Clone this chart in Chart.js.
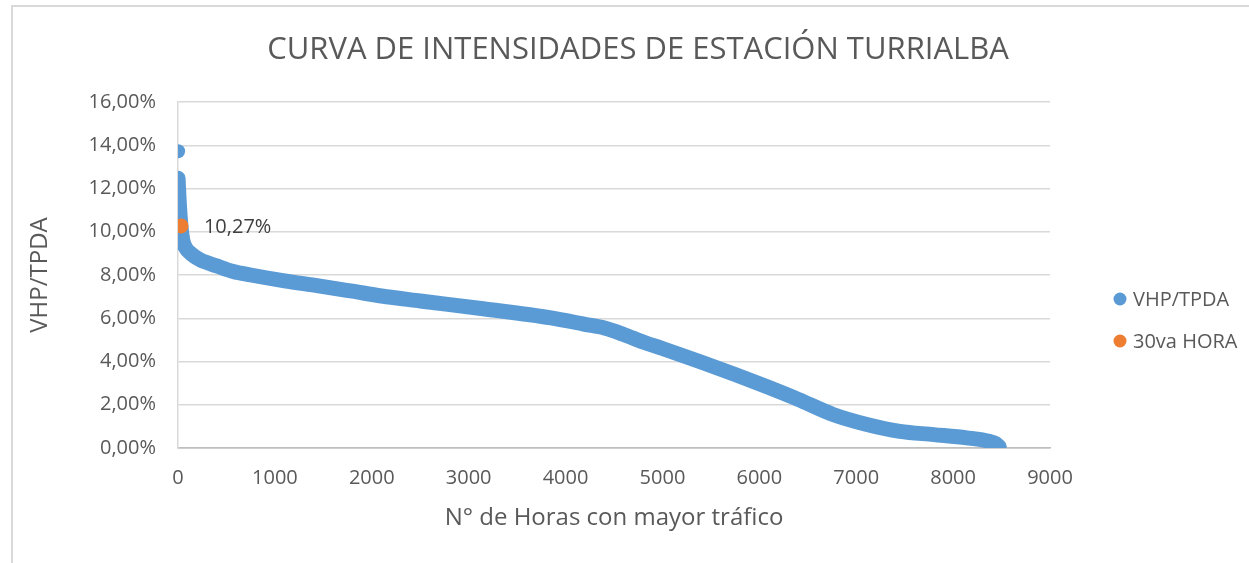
<!DOCTYPE html>
<html lang="es">
<head>
    <meta charset="UTF-8">
    <title>Curva de intensidades - Turrialba</title>
    <script src="https://cdn.jsdelivr.net/npm/chart.js"></script>
    <style>
        body {
            margin: 0;
            background: #fff;
            overflow: hidden;
        }
        #wrap {
            position: relative;
            width: 1249px;
            height: 563px;
        }
        #frame {
            position: absolute;
            left: 11px;
            top: 5px;
            width: 1300px;
            height: 600px;
            border: 2px solid #d9d9d9;
        }
        canvas {
            position: absolute;
            left: 0;
            top: 0;
        }
    </style>
</head>
<body>
<div id="wrap">
    <div id="frame"></div>
    <canvas id="curva" width="1249" height="563"></canvas>
</div>

<script>
    // horas ordenadas (eje x) y VHP/TPDA en % (eje y), leidos del grafico
    // el null separa el punto maximo aislado del resto de la curva
    const horas = [1, 1, 1, 10, 30, 50, 80, 130, 230, 400, 570, 750, 1100, 1450, 1800, 2100, 2500,
        3150, 3850, 4200, 4400, 4600, 4800, 5000, 5390, 5750, 6080, 6400, 6760, 7100, 7450, 7800,
        8140, 8380, 8440, 8476];
    const vhpTpda = [13.72, null, 12.47, 11.6, 10.27, 9.6, 9.25, 9.0, 8.7, 8.42, 8.16, 8.0, 7.73, 7.5,
        7.25, 7.03, 6.8, 6.44, 6.02, 5.72, 5.55, 5.25, 4.9, 4.6, 3.99, 3.4, 2.83, 2.25, 1.55, 1.1,
        0.77, 0.62, 0.47, 0.3, 0.2, 0.06];

    // 30va hora
    const hora30 = [30];
    const valor30 = [10.27];
    const etiqueta30 = '10,27%';

    const titulo = 'CURVA DE INTENSIDADES DE ESTACIÓN TURRIALBA';
    const series = ['VHP/TPDA', '30va HORA'];
    const colores = ['#5B9BD5', '#ED7D31'];

    const xTicks = [0, 1000, 2000, 3000, 4000, 5000, 6000, 7000, 8000, 9000];
    const yTicks = ['0,00%', '2,00%', '4,00%', '6,00%', '8,00%', '10,00%', '12,00%', '14,00%', '16,00%'];

    Chart.defaults.font.family = "'Open Sans', sans-serif";
    Chart.defaults.color = '#595959';

    // titulo centrado sobre todo el grafico
    const tituloPlugin = {
        id: 'titulo',
        afterDraw(chart) {
            const ctx = chart.ctx;
            ctx.save();
            ctx.font = "31px 'Open Sans', sans-serif";
            ctx.fillStyle = '#595959';
            ctx.textAlign = 'center';
            ctx.textBaseline = 'middle';
            ctx.fillText(titulo, 638, 50);
            ctx.restore();
        }
    };

    // etiqueta de la 30va hora
    const etiquetaPlugin = {
        id: 'etiqueta',
        afterDatasetsDraw(chart) {
            const pt = chart.getDatasetMeta(1).data[0];
            const ctx = chart.ctx;
            ctx.save();
            ctx.font = "20px 'Open Sans', sans-serif";
            ctx.fillStyle = '#404040';
            ctx.textBaseline = 'middle';
            ctx.fillText(etiqueta30, pt.x + 23, pt.y + 1);
            ctx.restore();
        }
    };

    // leyenda a la derecha
    const leyendaPlugin = {
        id: 'leyenda',
        afterDraw(chart) {
            const ctx = chart.ctx;
            ctx.save();
            ctx.font = "20px 'Open Sans', sans-serif";
            ctx.textBaseline = 'middle';
            chart.data.datasets.forEach((ds, i) => {
                const y = 299 + i * 42;
                ctx.fillStyle = ds.backgroundColor;
                ctx.beginPath();
                ctx.arc(1120, y, 6.5, 0, Math.PI * 2);
                ctx.fill();
                ctx.fillStyle = '#595959';
                ctx.fillText(ds.label, 1133, y + 1);
            });
            ctx.restore();
        }
    };

    const datos = {
        datasets: [{
            label: series[0],
            data: horas.map((h, i) => ({ x: h, y: vhpTpda[i] })),
            showLine: true,
            spanGaps: false,
            cubicInterpolationMode: 'monotone',
            borderColor: colores[0],
            backgroundColor: colores[0],
            borderWidth: 15,
            borderCapStyle: 'round',
            borderJoinStyle: 'round',
            pointRadius: ctx => ctx.dataIndex === 0 ? 7 : 0,
            pointBorderWidth: 0,
            order: 1
        }, {
            label: series[1],
            data: hora30.map((h, i) => ({ x: h, y: valor30[i] })),
            backgroundColor: colores[1],
            pointRadius: 7.5,
            pointBorderWidth: 0,
            order: 0
        }]
    };

    new Chart(document.getElementById('curva'), {
        type: 'scatter',
        data: datos,
        options: {
            responsive: false,
            animation: false,
            events: [],
            layout: { padding: { left: 0, right: 199, top: 102, bottom: 0 } },
            plugins: {
                legend: { display: false },
                tooltip: { enabled: false },
                title: { display: false }
            },
            scales: {
                x: {
                    type: 'linear',
                    min: 0,
                    max: 9000,
                    afterBuildTicks: s => { s.ticks = xTicks.map(v => ({ value: v })); },
                    afterFit: s => { s.height = 115; s.paddingLeft = 0; s.paddingRight = 0; },
                    ticks: {
                        padding: 18,
                        font: { size: 20 },
                        callback: v => String(v)
                    },
                    grid: { display: false, drawTicks: false },
                    border: { color: '#bfbfbf', width: 1.5 },
                    title: {
                        display: true,
                        text: 'N° de Horas con mayor tráfico',
                        font: { size: 24 },
                        padding: { top: 0, bottom: 30 }
                    }
                },
                y: {
                    min: 0,
                    max: 16,
                    afterBuildTicks: s => { s.ticks = yTicks.map((t, i) => ({ value: i * 2 })); },
                    afterFit: s => { s.width = 178; s.paddingTop = 0; s.paddingBottom = 0; },
                    ticks: {
                        padding: 22,
                        font: { size: 20 },
                        callback: (v, i) => yTicks[i]
                    },
                    grid: {
                        drawTicks: false,
                        color: ctx => ctx.tick && ctx.tick.value === 0 ? '#bfbfbf' : '#d9d9d9',
                        lineWidth: 1.5
                    },
                    border: { color: '#d9d9d9', width: 1.5 },
                    title: {
                        display: true,
                        text: 'VHP/TPDA',
                        font: { size: 24 },
                        padding: { top: 26, bottom: 0 }
                    }
                }
            }
        },
        plugins: [tituloPlugin, etiquetaPlugin, leyendaPlugin]
    });
</script>
</body>
</html>
